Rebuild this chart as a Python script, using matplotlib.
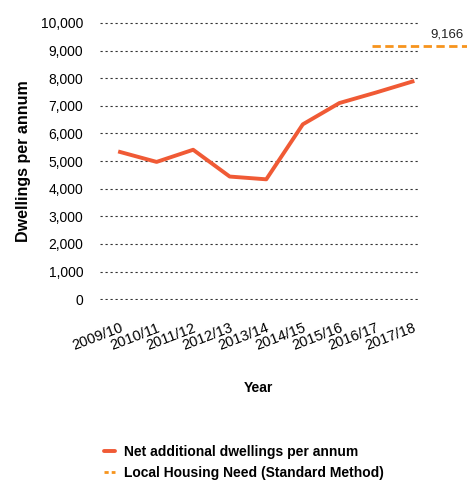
import numpy as np
import matplotlib.pyplot as plt
from matplotlib.lines import Line2D

years = ['2009/10', '2010/11', '2011/12', '2012/13', '2013/14',
         '2014/15', '2015/16', '2016/17', '2017/18']
net_dwellings = [5330, 4970, 5410, 4440, 4340, 6330, 7100, 7480, 7880]
lhn_value = 9166
lhn_years = ['2016/17', '2017/18']

plt.rcParams['font.family'] = ['Liberation Sans', 'DejaVu Sans']

fig = plt.figure(figsize=(4.67, 4.83), dpi=100)
ax = fig.add_axes([0.214, 0.379, 0.681, 0.575])

x = np.arange(len(years))
ax.plot(x, net_dwellings, color='#F05A35', lw=2.8, solid_joinstyle='round')

i0 = years.index(lhn_years[0])
ax.plot([i0 - 0.1, len(years) + 0.5], [lhn_value, lhn_value], color='#F7941D',
        lw=2, ls=(0, (3, 1.6)), clip_on=False)
ax.text(len(years) + 0.4, lhn_value + 180, f'{lhn_value:,}', ha='right', va='bottom',
        fontsize=9.5, color='#222222')

ax.set_ylim(-25, 10025)
ax.set_xlim(-0.55, 8.15)
ax.set_yticks(np.arange(0, 10001, 1000))
ax.set_yticklabels([f'{v:,}' for v in range(0, 10001, 1000)], fontsize=10)
ax.set_xticks(x)
ax.set_xticklabels(years, rotation=21, ha='right', rotation_mode='anchor', fontsize=10.5)
ax.tick_params(axis='y', length=0, pad=12)
ax.tick_params(axis='x', length=0, pad=15)
ax.yaxis.grid(True, ls=(0, (2, 2.5)), color='#333333', lw=0.8)
ax.set_axisbelow(True)
for s in ax.spines.values():
    s.set_visible(False)

ax.set_ylabel('Dwellings per annum', fontsize=11.5, fontweight='bold', labelpad=7)
ax.set_xlabel('Year', fontsize=10, fontweight='bold', labelpad=20)

handles = [
    Line2D([], [], color='#F05A35', lw=2.8, solid_capstyle='round'),
    Line2D([], [], color='#F7941D', lw=2, ls=(0, (1.5, 1.1))),
]
labels = ['Net additional dwellings per annum', 'Local Housing Need (Standard Method)']
fig.legend(handles, labels, loc='lower left', bbox_to_anchor=(0.195, -0.02), frameon=False,
           handlelength=0.8, handletextpad=0.7, labelspacing=0.5,
           prop={'weight': 'bold', 'size': 10})

fig.savefig('out.png', dpi=100)
